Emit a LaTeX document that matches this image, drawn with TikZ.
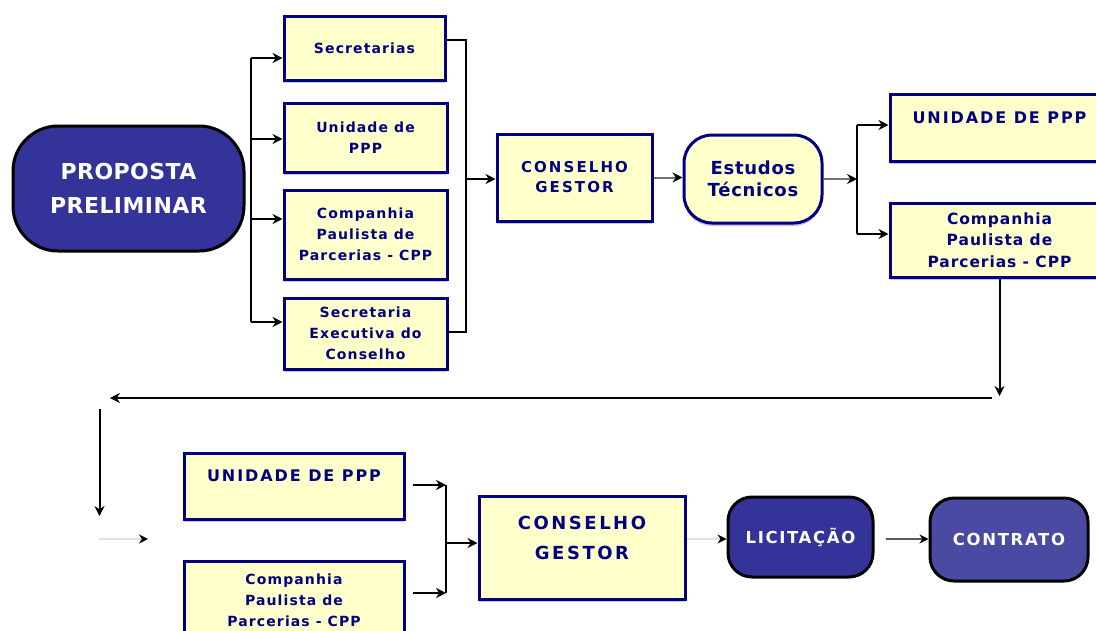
\documentclass[tikz,border=0pt]{standalone}
\usepackage{fontspec}
\setmainfont{DejaVu Sans}
\usetikzlibrary{arrows.meta,shadows}
\definecolor{mynavy}{HTML}{000080}
\definecolor{cream}{HTML}{FFFFCC}
\definecolor{dblue}{HTML}{333399}
\definecolor{mblue}{HTML}{4A4AA3}
\definecolor{shade}{HTML}{C8C8E6}
\newcommand\fLeft{\bfseries\fontsize{14}{21}\selectfont\addfontfeatures{LetterSpace=8}}
\newcommand\fCG{\bfseries\fontsize{15}{20}\selectfont\addfontfeatures{LetterSpace=14}}
\newcommand\fEst{\bfseries\fontsize{18}{22}\selectfont\addfontfeatures{LetterSpace=4}}
\newcommand\fUni{\bfseries\fontsize{16}{20}\selectfont\addfontfeatures{LetterSpace=12}}
\newcommand\fCppR{\bfseries\fontsize{15.5}{21.5}\selectfont\addfontfeatures{LetterSpace=6}}
\newcommand\fCGb{\bfseries\fontsize{18}{30}\selectfont\addfontfeatures{LetterSpace=14}}
\newcommand\fProp{\bfseries\fontsize{22}{34}\selectfont\addfontfeatures{LetterSpace=2}}
\newcommand\fPill{\bfseries\fontsize{16.5}{20}\selectfont\addfontfeatures{LetterSpace=10}}
\tikzset{
  ybox/.style={draw=mynavy, line width=3pt, fill=cream, text=mynavy, align=center,
    inner sep=0pt, drop shadow={shadow xshift=0pt, shadow yshift=-3pt, fill=shade, opacity=1}},
  pill/.style={draw=black, line width=3pt, fill=dblue, text=white, align=center, inner sep=0pt},
  tlabel/.style={text=mynavy, align=center, inner sep=0pt},
  conn/.style={line width=2pt, draw=black},
  arr/.style={conn, -{Stealth[length=10pt,width=10pt]}},
  garr/.style={line width=2pt, draw=black!12, -{Stealth[length=9pt,width=9pt,color=black]}},
  darr/.style={line width=2pt, draw=black!65, -{Stealth[length=9pt,width=9pt,color=black]}},
  gyarr/.style={line width=2pt, draw=black!55, -{Stealth[length=10pt,width=10pt,color=black]}},
}
\begin{document}
\begin{tikzpicture}[x=1pt,y=-1pt]
\clip (0,0) rectangle (1096,630);
\fill[white] (0,0) rectangle (1096,630);
% top row
\node[pill, rounded corners=45pt, minimum width=231pt, minimum height=125pt, font=\fProp] (prop) at (128.5,188.5) {PROPOSTA\\PRELIMINAR};
\node[ybox, minimum width=161pt, minimum height=64pt, font=\fLeft] (sec) at (364.5,48) {Secretarias};
\node[ybox, minimum width=163pt, minimum height=69pt, font=\fLeft] (uni) at (365.5,137.5) {Unidade de\\PPP};
\node[ybox, minimum width=163pt, minimum height=89pt, font=\fLeft] (cpp) at (365.5,234.5) {Companhia\\Paulista de\\Parcerias - CPP};
\node[ybox, minimum width=163pt, minimum height=71pt, font=\fLeft] (sex) at (365.5,333.5) {Secretaria\\Executiva do\\Conselho};
\node[ybox, minimum width=155pt, minimum height=87pt, font=\fCG] (cg) at (574.5,177.5) {CONSELHO\\GESTOR};
\node[ybox, rounded corners=28pt, minimum width=138pt, minimum height=88pt, font=\fEst] (est) at (753,179) {Estudos\\Técnicos};
\node[ybox, minimum width=219pt, minimum height=67pt,
  label={[tlabel, font=\fUni, yshift=9.5pt]center:UNIDADE DE PPP}] (uni2) at (999.5,127.5) {};
\node[ybox, minimum width=219pt, minimum height=74pt, font=\fCppR] (cpp2) at (999.5,240) {Companhia\\Paulista de\\Parcerias - CPP};
% bottom row
\node[ybox, minimum width=220pt, minimum height=66pt,
  label={[tlabel, font=\fUni, yshift=10pt]center:UNIDADE DE PPP}] (uni3) at (294,486) {};
\node[ybox, minimum width=220pt, minimum height=78pt, font=\fLeft] (cpp3) at (294,600) {Companhia\\Paulista de\\Parcerias - CPP};
\node[ybox, minimum width=206pt, minimum height=103pt,
  label={[tlabel, font=\fCGb, yshift=10pt]center:CONSELHO\\GESTOR}] (cg3) at (582,547.5) {};
\node[pill, rounded corners=24pt, minimum width=145pt, minimum height=80pt, font=\fPill] (lic) at (800.5,537) {LICITAÇÃO};
\node[pill, fill=mblue, rounded corners=24pt, minimum width=158pt, minimum height=83pt, font=\fPill] (con) at (1009,539.5) {CONTRATO};
% left bracket
\coordinate (L1) at (251,58);
\coordinate (L2) at (251,139);
\coordinate (L3) at (251,219);
\coordinate (L4) at (251,322);
\draw[conn] (L1) -- (L4);
\draw[arr] (L1) -- (L1 -| sec.west);
\draw[arr] (L2) -- (L2 -| uni.west);
\draw[arr] (L3) -- (L3 -| cpp.west);
\draw[arr] (L4) -- (L4 -| sex.west);
% right bracket
\coordinate (R1) at (466,40);
\coordinate (R4) at (466,332);
\coordinate (Rm) at (466,179);
\draw[conn] (sec.east |- R1) -- (R1) -- (R4) -- (sex.east |- R4);
\draw[arr] (Rm) -- (Rm -| cg.west);
\draw[gyarr] (cg.east) -- (cg.east -| est.west);
% bracket after Estudos
\coordinate (B) at (857,179);
\coordinate (B1) at (857,125);
\coordinate (B2) at (857,234);
\draw[gyarr] (est.east) -- (B);
\draw[conn] (B1) -- (B2);
\draw[arr] (B1) -- (B1 -| uni2.west);
\draw[arr] (B2) -- (B2 -| cpp2.west);
% return path
\coordinate (D) at (999.5,396);
\coordinate (H1) at (992,398);
\coordinate (H2) at (110,398);
\coordinate (V1) at (99.5,409);
\coordinate (V2) at (99.5,516);
\coordinate (G1) at (99,539);
\coordinate (G2) at (148,539);
\draw[arr] (cpp2.south) -- (D);
\draw[arr, line width=1.6pt] (H1) -- (H2);
\draw[arr] (V1) -- (V2);
\draw[garr] (G1) -- (G2);
% bottom bracket
\coordinate (C1) at (413,485);
\coordinate (C2) at (413,593);
\coordinate (K1) at (446,485);
\coordinate (K2) at (446,593);
\coordinate (Km) at (446,543);
\draw[arr] (C1) -- (K1);
\draw[arr] (C2) -- (K2);
\draw[conn] (K1) -- (K2);
\draw[arr] (Km) -- (Km -| cg3.west);
\draw[garr] (cg3.east |- 0,539) -- (lic.west |- 0,539);
\coordinate (P1) at (886,539);
\draw[darr] (P1) -- (P1 -| con.west);
\end{tikzpicture}
\end{document}
